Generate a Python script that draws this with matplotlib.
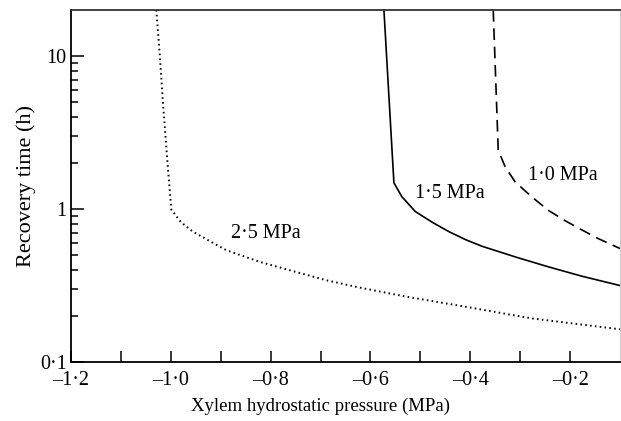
import numpy as np
import matplotlib
matplotlib.use("Agg")
import matplotlib.pyplot as plt
from matplotlib.ticker import FixedLocator, FixedFormatter, NullFormatter

plt.rcParams['font.family'] = ['Liberation Serif', 'DejaVu Serif']

# 2.5 MPa curve (dotted)
x_25 = [-1.029, -1.022, -1.016, -1.006, -0.999, -0.980, -0.956, -0.920, -0.889,
        -0.823, -0.756, -0.690, -0.623, -0.527, -0.410, -0.277, -0.100]
y_25 = [20.0, 10.0, 5.1, 1.88, 0.99, 0.82, 0.71, 0.61, 0.537,
        0.451, 0.392, 0.342, 0.306, 0.266, 0.229, 0.192, 0.163]

# 1.5 MPa curve (solid)
x_15 = [-0.573, -0.553, -0.537, -0.510, -0.477, -0.443, -0.410, -0.377,
        -0.310, -0.244, -0.177, -0.100]
y_15 = [20.0, 1.48, 1.20, 0.96, 0.82, 0.71, 0.63, 0.57,
        0.485, 0.418, 0.363, 0.315]

# 1.0 MPa curve (dashed)
x_10 = [-0.354, -0.344, -0.330, -0.310, -0.277, -0.244, -0.211, -0.177,
        -0.144, -0.100]
y_10 = [20.0, 2.42, 1.88, 1.50, 1.20, 0.98, 0.84, 0.73,
        0.64, 0.55]

labels = ["2·5 MPa", "1·5 MPa", "1·0 MPa"]
label_x = [-0.809, -0.440, -0.214]
label_y = [0.69, 1.26, 1.66]

xtick_vals = [-1.2, -1.0, -0.8, -0.6, -0.4, -0.2]
xtick_text = ["–1·2", "–1·0", "–0·8", "–0·6", "–0·4", "–0·2"]
ytick_vals = [0.1, 1, 10]
ytick_text = ["0·1", "1", "10"]

fig = plt.figure(figsize=(6.21, 4.21), dpi=100)
ax = fig.add_axes([71 / 621, 1 - 361.7 / 421, (620 - 71) / 621, (361.7 - 10) / 421])

ax.plot(x_25, y_25, color='black', lw=1.4, linestyle=(0, (0.8, 1.7)))
ax.plot(x_15, y_15, color='black', lw=1.2, linestyle='-')
ax.plot(x_10, y_10, color='black', lw=1.2, linestyle=(0, (7, 4)))

for t, lx, ly in zip(labels, label_x, label_y):
    ax.text(lx, ly, t, fontsize=14.5, ha='center', va='center')

ax.set_yscale('log')
ax.set_xlim(-1.2, -0.1)
ax.set_ylim(0.1, 20)

ax.xaxis.set_major_locator(FixedLocator(xtick_vals))
ax.xaxis.set_major_formatter(FixedFormatter(xtick_text))
ax.xaxis.set_minor_locator(FixedLocator(np.arange(-1.1, -0.15, 0.2)))
ax.yaxis.set_major_locator(FixedLocator(ytick_vals))
ax.yaxis.set_major_formatter(FixedFormatter(ytick_text))
ax.yaxis.set_minor_locator(FixedLocator([m * d for d in (0.1, 1) for m in range(2, 10)]))
ax.yaxis.set_minor_formatter(NullFormatter())

ax.tick_params(axis='x', which='both', direction='in', length=8, width=1.1,
               labelsize=14.5, pad=7)
ax.tick_params(axis='y', which='major', direction='in', length=9, width=1.1,
               labelsize=14.5, pad=3)
ax.tick_params(axis='y', which='minor', direction='in', length=5, width=1.1)

ax.spines['left'].set_linewidth(1.3)
ax.spines['bottom'].set_linewidth(1.3)
ax.spines['top'].set_color('#333333')
ax.spines['top'].set_linewidth(1.3)
ax.spines['right'].set_color('#cccccc')

ax.set_xlabel("Xylem hydrostatic pressure (MPa)", fontsize=13.5, labelpad=5, x=0.455)
ax.set_ylabel("Recovery time (h)", fontsize=16, labelpad=3)

fig.savefig("out.png", dpi=100)
